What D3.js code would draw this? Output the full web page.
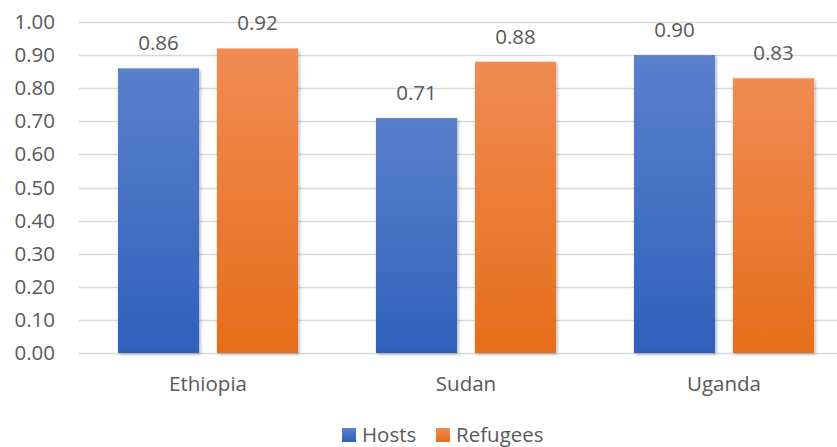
<!DOCTYPE html>
<html>
<head>
<meta charset="utf-8">
<script src="https://cdn.jsdelivr.net/npm/d3@7"></script>
<style>
  html, body { margin: 0; padding: 0; background: #ffffff; }
  svg { display: block; }
  text { font-family: "Open Sans", "Liberation Sans", sans-serif; fill: #595959; }
</style>
</head>
<body>
<svg id="chart" width="837" height="447"></svg>
<script>
// Chart data
const categories = ["Ethiopia", "Sudan", "Uganda"];
const seriesNames = ["Hosts", "Refugees"];
const hostsValues = [0.86, 0.71, 0.90];
const refugeesValues = [0.92, 0.88, 0.83];
const yTicks = [0, 0.1, 0.2, 0.3, 0.4, 0.5, 0.6, 0.7, 0.8, 0.9, 1.0];

const seriesValues = { "Hosts": hostsValues, "Refugees": refugeesValues };
const gradients = {
  "Hosts": ["#5b80cc", "#2f61bb"],
  "Refugees": ["#f18b52", "#e66d1b"]
};

const svg = d3.select("#chart");
const margin = { left: 79, right: -16, top: 22, bottom: 94 };
const width = 837, height = 447;
const fontSize = 20.5;

const y = d3.scaleLinear().domain([0, 1]).range([height - margin.bottom, margin.top]);
const x0 = d3.scaleBand().domain(categories)
  .range([margin.left, width - margin.right])
  .paddingInner(0.302).paddingOuter(0.151);
const x1 = d3.scaleBand().domain(seriesNames)
  .range([0, x0.bandwidth()])
  .paddingInner(0.18);

const defs = svg.append("defs");
seriesNames.forEach(s => {
  const g = defs.append("linearGradient").attr("id", "grad-" + s)
    .attr("x1", 0).attr("y1", 0).attr("x2", 0).attr("y2", 1);
  g.append("stop").attr("offset", "0%").attr("stop-color", gradients[s][0]);
  g.append("stop").attr("offset", "100%").attr("stop-color", gradients[s][1]);
});
const shadow = defs.append("filter").attr("id", "shadow")
  .attr("x", "-10%").attr("y", "-10%").attr("width", "130%").attr("height", "130%");
shadow.append("feDropShadow").attr("dx", 1.5).attr("dy", 1.5)
  .attr("stdDeviation", 1.8).attr("flood-color", "#000").attr("flood-opacity", 0.28);

// Gridlines
svg.append("g").selectAll("line").data(yTicks).join("line")
  .attr("x1", margin.left).attr("x2", width)
  .attr("y1", d => Math.round(y(d)) + 0.5).attr("y2", d => Math.round(y(d)) + 0.5)
  .attr("stroke", "#d9d9d9").attr("stroke-width", 1.5);

// Y axis labels
const yAxis = d3.axisLeft(y).tickValues(yTicks).tickFormat(d3.format(".2f")).tickSize(0).tickPadding(0);
const gy = svg.append("g").attr("transform", `translate(55,0)`).call(yAxis);
gy.select(".domain").remove();
gy.selectAll("text").attr("font-size", fontSize).attr("font-family", null).attr("fill", null);

// Bars
const groups = svg.append("g").selectAll("g").data(categories).join("g")
  .attr("transform", d => `translate(${x0(d)},0)`);

groups.selectAll("rect")
  .data((c, i) => seriesNames.map(s => ({ s, v: seriesValues[s][i] })))
  .join("rect")
  .attr("x", d => x1(d.s))
  .attr("width", x1.bandwidth())
  .attr("y", d => y(d.v))
  .attr("height", d => y(0) - y(d.v))
  .attr("fill", d => `url(#grad-${d.s})`)
  .attr("filter", "url(#shadow)");

// Value labels
groups.selectAll("text.val")
  .data((c, i) => seriesNames.map(s => ({ s, v: seriesValues[s][i] })))
  .join("text").attr("class", "val")
  .attr("x", d => x1(d.s) + x1.bandwidth() / 2)
  .attr("y", d => y(d.v) - 18)
  .attr("text-anchor", "middle")
  .attr("font-size", fontSize)
  .text(d => d3.format(".2f")(d.v));

// Category axis labels
const xAxis = d3.axisBottom(x0).tickSize(0).tickPadding(0);
const gx = svg.append("g").attr("transform", `translate(0,${y(0) + 23})`).call(xAxis);
gx.select(".domain").remove();
gx.selectAll("text").attr("font-size", fontSize).attr("font-family", null).attr("fill", null);

// Legend
const legendX = [342, 436];
const legend = svg.append("g").selectAll("g").data(seriesNames).join("g")
  .attr("transform", (d, i) => `translate(${legendX[i]},428)`);
legend.append("rect").attr("width", 14).attr("height", 14)
  .attr("fill", d => `url(#grad-${d})`);
legend.append("text").attr("x", 20).attr("y", 13.5).attr("font-size", fontSize).text(d => d);
</script>
</body>
</html>
